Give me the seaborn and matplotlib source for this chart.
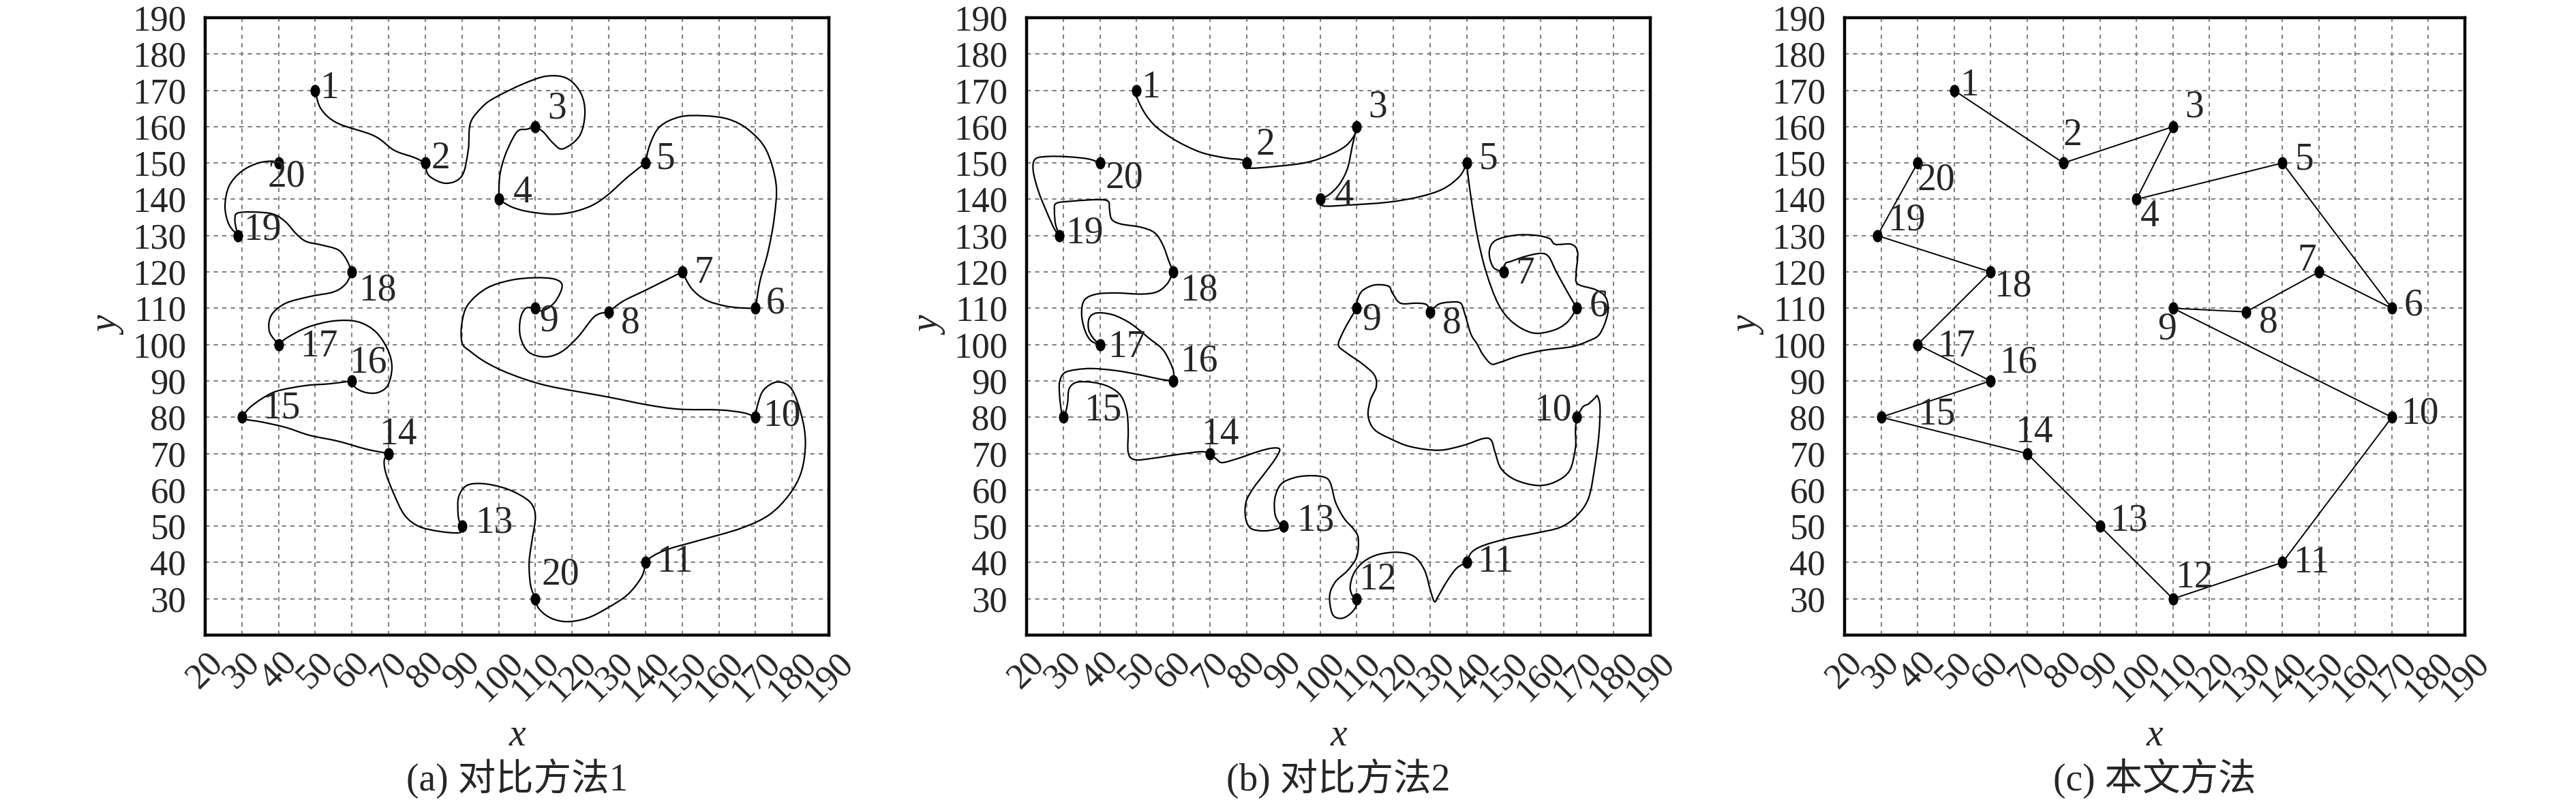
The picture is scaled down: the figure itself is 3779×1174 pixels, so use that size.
import numpy as np
import matplotlib
matplotlib.use("Agg")
import matplotlib.pyplot as plt
from matplotlib.path import Path
from matplotlib.patches import PathPatch
import seaborn as sns

# node coordinates (shared by the three panels)
node_x = [50, 80, 110, 100, 140, 170, 150, 130, 110, 170, 140, 110, 90, 70, 30, 60, 40, 60, 29, 40]
node_y = [170, 150, 160, 140, 150, 110, 120, 109, 110, 80, 40, 30, 50, 70, 80, 90, 100, 120, 130, 150]

labels_a = ["1", "2", "3", "4", "5", "6", "7", "8", "9", "10",
            "11", "20", "13", "14", "15", "16", "17", "18", "19", "20"]
labels_b = [str(i) for i in range(1, 21)]
labels_c = [str(i) for i in range(1, 21)]

captions = ["(a) 对比方法1", "(b) 对比方法2", "(c) 本文方法"]

x_ticks = list(range(20, 191, 10))
y_ticks = list(range(30, 191, 10))

# intermediate bend points of each route segment (node i -> node i+1)
bends_a = [
    [(51.5, 165), (56, 161), (66, 157.5), (71.5, 153.5), (77, 151.5)],
    [(81, 146.5), (85.7, 144.4), (90, 146.5), (91.7, 153.6), (92.3, 161), (95.6, 165.5), (99, 168),
     (106.5, 171.7), (113, 173.9), (118.6, 173.3), (122.4, 169.2), (123.5, 163.6), (122, 157.4),
     (117.5, 153.9), (114.8, 155.5), (112.1, 158.6)],
    [(107.7, 159.3), (105.5, 159), (103.8, 156.7), (101.6, 151.7), (100.3, 146.5)],
    [(103.3, 138), (107.6, 136.7), (114.2, 135.9), (119.7, 136.4), (125.2, 138.2), (129.6, 141.1),
     (135.1, 146.1)],
    [(141.2, 155), (143.9, 160), (149.4, 162.7), (155.9, 163), (162.5, 162.1), (168, 159.2),
     (172.9, 153.6), (175.6, 144.2), (175.1, 134.9), (173.4, 125.5), (171.2, 117.4)],
    [(165.8, 110.1), (161.4, 110.7), (156.4, 112.3), (152.6, 115.4)],
    [(140.5, 115.2), (134, 112)],
    [(126.2, 107.8), (121.7, 102.2), (117.1, 98), (112.6, 96.6), (108.1, 98), (105.9, 102.2),
     (105.9, 107), (107.4, 110)],
    [(112, 109.3), (115.3, 111.7), (117.3, 116.1), (115.3, 118), (109.8, 118.4), (103.2, 117.7),
     (96.7, 115.5), (91.7, 111.1), (90, 106.1), (90, 100.5), (92.3, 98.1), (96.7, 95), (103.2, 91.9),
     (113.1, 88.7), (129.6, 85.6), (140.5, 83.4), (149.3, 82.2), (160.2, 82), (166.8, 81.2)],
    [(170.5, 83.1), (172.2, 87.5), (176, 89.7), (179.8, 87.8), (182.5, 80.6), (183.6, 73.1),
     (182.5, 65), (179.2, 58.7), (173.7, 53.1), (166, 49.4), (155.1, 46.2), (146.3, 43.7),
     (141.9, 41.7)],
    [(139, 36.1), (135.2, 31.2), (129.7, 27.5), (124.2, 24.7), (118.6, 23.7), (114.2, 24.7),
     (111, 27.2)],
    [(108.7, 33.7), (108.3, 40), (109.1, 46.2), (110, 52.5), (108.9, 56.2), (105.6, 58.7),
     (101.2, 60.6), (95.7, 61.7), (91.3, 61.2), (89.1, 58.1), (88.9, 53.7), (89.3, 51.2)],
    [(89.3, 48.2), (83.6, 48.6), (78.1, 50), (74.3, 53.1), (71.5, 58.7), (69.3, 64.4), (68.8, 68.1)],
    [(63.9, 71.2), (56.2, 73.4), (48.5, 75), (41.9, 77.2), (35.3, 78.7), (30.9, 79.4)],
    [(32, 82.5), (35.3, 85), (39.6, 87.2), (47.3, 88.7), (53.9, 89.2)],
    [(61, 88.1), (63.8, 86.8), (67.1, 86.8), (69.8, 88.8), (70.9, 93.7), (69.8, 98.5), (66.5, 103.5),
     (61.5, 106.3), (55, 106.5), (48, 104.8), (42.5, 102)],
    [(37.5, 103.6), (38, 108), (41.8, 111.3), (48.4, 113.2), (55, 114.5), (58.3, 116.7)],
    [(58.4, 123.6), (56.2, 126.1), (51.8, 127.4), (47.5, 128.4), (44.7, 130.6), (42, 133.7),
     (38.6, 135.9), (33.2, 136.5), (28.8, 136.2), (28.1, 134.4), (28.5, 131.7)],
    [(26.5, 133), (25.4, 138), (26.5, 143.6), (29.8, 147.6), (34.2, 149.9), (38.1, 150.5)],
]

bends_b = [
    [(50.1, 168), (52.3, 163.6), (55.5, 159.8), (61, 156), (67.6, 152.9), (74.2, 151.4), (78.6, 150.9)],
    [(80.4, 148.6), (87.3, 149), (96.1, 150.1), (102.7, 152.3), (107.1, 154.8), (109.5, 157.9)],
    [(108.8, 154.8), (107.5, 148.6), (105.3, 144.2), (102.6, 141.4)],
    [(100.8, 138.2), (107.5, 138.4), (118.5, 139.2), (127.1, 140.7), (133.6, 142.9), (138.1, 146.4)],
    [(140.3, 146.7), (141.4, 138.6), (143, 129.2), (145.3, 119.8), (148.6, 111.1), (152.5, 106.1),
     (158, 103.2), (163.5, 103.9), (167.3, 106.1)],
    [(167.9, 113.6), (164.5, 119.8), (162.3, 124.2), (160, 125.1), (155.7, 124.2), (152, 122.9),
     (150.5, 122.3)],
    [(147.2, 121.3), (146.1, 125.4), (147.7, 128.6), (153.1, 130.1), (158.6, 130.1), (162.5, 129.2),
     (164.1, 127.6), (168.5, 127.6), (170.2, 125.4), (169.8, 119.8), (170.2, 116.7), (175.1, 115.1),
     (177.9, 112.9), (178.4, 108.6), (176.2, 102.9), (172.9, 100.9), (168.5, 99.4), (160.8, 98.4),
     (154.2, 96.9), (148.7, 95), (146.6, 94.7), (144.4, 97.2), (142.7, 100.3), (141.1, 102.9),
     (139.4, 108.6), (138.3, 111.4), (135.6, 111.7), (132.3, 111.1)],
    [(129, 111), (126.3, 111.4), (121.9, 111.4), (119.7, 114.2), (118.6, 116.1), (114.8, 116.4),
     (111.5, 114.8), (110.2, 112.3)],
    [(108, 106.7), (106, 102.9), (105, 99.8), (107.1, 97.8), (111.5, 94.7), (114.8, 91.6),
     (115.3, 88.4), (113.7, 84.7), (113.1, 80.3), (114.8, 76.6), (119.1, 74.1), (124.6, 71.9),
     (132.3, 70.9), (138.9, 72.2), (144.4, 74.1), (146.6, 73.7), (147.7, 70.3), (149.3, 65.9),
     (153.1, 62.8), (159.2, 61.2), (164.1, 62.2), (168, 65.3), (169.6, 71.6), (169.6, 76.6)],
    [(171.6, 82.8), (173.2, 83.7), (174.9, 85.3), (175.6, 85.8), (176.3, 82.8), (176, 75.3),
     (174.9, 66.6), (173.2, 57.8), (169.9, 52.8), (165.5, 49.7), (158.9, 48.1), (151.2, 46.6),
     (144.6, 44.7), (141.3, 42.8)],
    [(137.2, 38.4), (134.5, 34.7), (132.3, 30.9), (131.2, 29.2), (130.1, 32.2), (128.5, 37.8),
     (125.7, 41.6), (121.3, 42.8), (115.9, 42.2), (112, 40.3), (109.3, 37.2), (108.2, 33.4),
     (108.8, 30.9)],
    [(109.6, 27.5), (107.5, 25.3), (105.3, 24.6), (103.3, 25.9), (102.6, 30.9), (104.2, 34.7),
     (107.5, 37.8), (110, 41.6), (110.4, 46.6), (109.2, 49.1), (106.5, 52.2), (104.2, 56.6),
     (102.9, 61.6), (101.4, 63.4), (97.6, 63.9), (93.2, 63.4), (89.4, 61.6), (87.7, 57.8),
     (87.7, 53.4), (88.8, 50.9)],
    [(87.7, 49.1), (84.4, 48.7), (81.1, 49.4), (79.7, 52.2), (79.8, 56.6), (81.7, 60.3), (85, 64.7),
     (87.7, 68.4), (89, 71.1), (87.1, 71.5), (83.3, 70.6), (77.8, 68.7), (73.4, 67.5), (71.8, 68.4)],
    [(67.6, 70.5), (61, 69.7), (54.5, 68.7), (49.5, 68.3), (47.7, 70.3), (47.7, 76.6), (47.3, 81.6),
     (45.7, 85.9), (42.4, 88.4), (38, 89.6), (33.6, 89.6), (31.6, 87.8), (31.2, 84.1), (30.7, 81.6)],
    [(29.5, 81.6), (29, 85.9), (29, 89.7), (30.3, 92.2), (33.6, 93.1), (38, 93.4), (44.6, 92.8),
     (51.2, 91.6), (56.7, 90.4)],
    [(60, 92.8), (58.4, 96.6), (56.7, 99.1), (53.4, 101.7), (51.2, 103.6), (47.9, 106.1),
     (43.5, 108.2), (39.1, 108.7), (37.1, 107.3), (36.9, 104.2), (38.2, 101.7)],
    [(37.5, 101.1), (35.8, 104.2), (35, 108.6), (35.8, 112.3), (39.1, 113.9), (44.6, 114.2),
     (51.2, 113.9), (55.5, 114.5), (58.3, 116.7)],
    [(58.8, 122.9), (57.2, 127.3), (55, 130.7), (51.2, 132.3), (45.7, 133.2), (43.2, 134.5),
     (42.6, 137.3), (42.2, 139.5), (39.1, 139.9), (32.5, 139.5), (28.1, 138.9), (27.6, 136.8),
     (27.9, 133.1)],
    [(27.6, 131.8), (25.4, 136.7), (23.2, 142.3), (21.8, 147.9), (22.4, 151.1), (26, 151.8),
     (31.4, 151.7), (36.9, 151.1)],
]

# label offsets in pixels (layout only)
off_a = [(21, 3), (22, 6), (32, 26), (35, 9), (30, 6), (29, 7), (32, -2), (32, -17), (20, -19), (39, 2),
         (43, 0), (37, 35), (47, 5), (14, 28), (58, 13), (24, 26), (59, -3), (38, -27), (35, 8), (12, -20)]
off_b = [(21, 4), (27, 26), (31, 28), (35, 4), (32, 6), (32, 3), (32, -3), (32, -17), (22, -17), (-35, 10),
         (42, 0), (31, 28), (47, 8), (15, 28), (58, 10), (38, 28), (39, -4), (38, -27), (36, 3), (36, -22)]
off_c = [(22, 7), (13, 40), (31, 28), (20, -26), (32, 5), (32, 4), (-18, 16), (33, -16), (-9, -31), (41, 5),
         (43, -1), (31, 31), (42, 8), (10, 31), (81, 4), (41, 26), (57, -3), (33, -21), (43, 22), (27, -25)]

sns.set_style("white")
plt.rcParams['font.family'] = ['Liberation Serif', 'Noto Sans CJK SC']

TICK_FS = 38
LABEL_FS = 40

# slightly tall dot, like the reference
_circ = Path.unit_circle()
dot_marker = Path(_circ.vertices * np.array([0.78, 1.0]), _circ.codes)


def segment_path(pts):
    # smooth curve through the read points (Catmull-Rom drawn as cubic Bezier)
    pts = np.asarray(pts, dtype=float)
    n = len(pts)
    verts = [pts[0]]
    codes = [Path.MOVETO]
    for i in range(n - 1):
        p0 = pts[max(i - 1, 0)]
        p1 = pts[i]
        p2 = pts[i + 1]
        p3 = pts[min(i + 2, n - 1)]
        verts += [p1 + (p2 - p0) / 6.0, p2 - (p3 - p1) / 6.0, p2]
        codes += [Path.CURVE4] * 3
    return Path(verts, codes)


def style_axes(ax, caption):
    ax.set_xlim(20, 190)
    ax.set_ylim(20, 190)
    ax.set_xticks(x_ticks)
    ax.set_yticks(y_ticks)
    ax.set_xticklabels([str(t) for t in x_ticks], rotation=45, ha='center', fontsize=TICK_FS)
    ax.set_yticklabels([str(t) for t in y_ticks], fontsize=TICK_FS)
    ax.tick_params(axis='x', length=0, pad=12)
    ax.tick_params(axis='y', length=0, pad=20)
    ax.grid(True, color='#808080', linestyle=(0, (3, 3)), linewidth=1.5)
    ax.set_axisbelow(True)
    for sp in ax.spines.values():
        sp.set_visible(True)
        sp.set_color('black')
        sp.set_linewidth(3.2)
    ax.set_xlabel('x', fontsize=LABEL_FS, style='italic')
    ax.set_ylabel('y', fontsize=LABEL_FS, style='italic')
    ax.xaxis.set_label_coords(0.5, -0.135)
    ax.yaxis.set_label_coords(-0.125, 0.5)
    ax.text(0.5, -0.232, caption, transform=ax.transAxes, ha='center', va='center',
            fontsize=LABEL_FS, family=['Liberation Serif', 'Noto Sans CJK SC'])


def draw_nodes(ax, labels, offsets):
    sns.scatterplot(x=node_x, y=node_y, ax=ax, color='black', s=170, marker=dot_marker,
                    edgecolor='black', linewidth=0, zorder=4, legend=False)
    for x, y, lab, (dx, dy) in zip(node_x, node_y, labels, offsets):
        ax.annotate(lab, (x, y), xytext=(dx, dy), textcoords='offset pixels',
                    ha='center', va='center', fontsize=LABEL_FS, zorder=5)


def draw_curved_route(ax, bends):
    for i, mid in enumerate(bends):
        pts = [(node_x[i], node_y[i])] + list(mid) + [(node_x[i + 1], node_y[i + 1])]
        ax.add_patch(PathPatch(segment_path(pts), facecolor='none', edgecolor='black',
                               linewidth=1.6, zorder=3))


fig = plt.figure(figsize=(37.8, 11.74), dpi=100)
axes_pos = [
    [301 / 3780, 1 - 932 / 1174, 915 / 3780, 906 / 1174],
    [1506 / 3780, 1 - 932 / 1174, 915 / 3780, 906 / 1174],
    [2706 / 3780, 1 - 932 / 1174, 910 / 3780, 906 / 1174],
]
ax_a = fig.add_axes(axes_pos[0])
ax_b = fig.add_axes(axes_pos[1])
ax_c = fig.add_axes(axes_pos[2])

draw_curved_route(ax_a, bends_a)
draw_nodes(ax_a, labels_a, off_a)
style_axes(ax_a, captions[0])

draw_curved_route(ax_b, bends_b)
draw_nodes(ax_b, labels_b, off_b)
style_axes(ax_b, captions[1])

sns.lineplot(x=node_x, y=node_y, ax=ax_c, sort=False, estimator=None, color='black',
             linewidth=1.4, zorder=3)
draw_nodes(ax_c, labels_c, off_c)
style_axes(ax_c, captions[2])

fig.savefig('out.png', dpi=100)
